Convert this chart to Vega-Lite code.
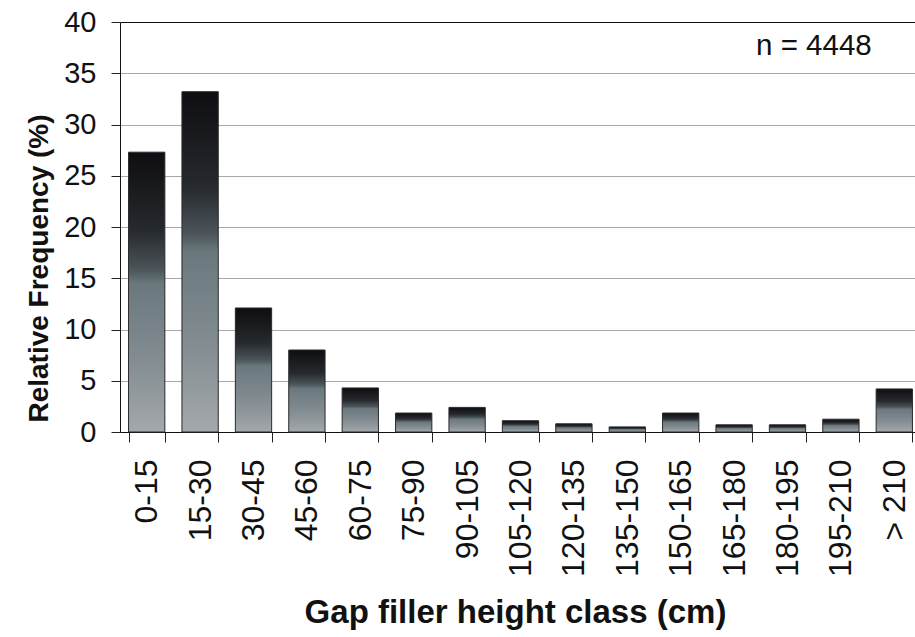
{
  "$schema": "https://vega.github.io/schema/vega-lite/v6.json",
  "autosize": "none",
  "width": 801,
  "height": 410,
  "padding": {"left": 120, "top": 22, "right": 0, "bottom": 205},
  "background": "white",
  "config": {
    "view": {"stroke": null},
    "font": "Liberation Sans"
  },
  "datasets": {
    "freq": [
      {"cls": "0-15", "pct": 27.3},
      {"cls": "15-30", "pct": 33.2},
      {"cls": "30-45", "pct": 12.1},
      {"cls": "45-60", "pct": 8.0},
      {"cls": "60-75", "pct": 4.3},
      {"cls": "75-90", "pct": 1.85},
      {"cls": "90-105", "pct": 2.4},
      {"cls": "105-120", "pct": 1.1},
      {"cls": "120-135", "pct": 0.8},
      {"cls": "135-150", "pct": 0.5},
      {"cls": "150-165", "pct": 1.85},
      {"cls": "165-180", "pct": 0.7},
      {"cls": "180-195", "pct": 0.7},
      {"cls": "195-210", "pct": 1.25},
      {"cls": "> 210", "pct": 4.2}
    ],
    "note": [
      {"cls": "195-210", "pct": 36.8, "label": "n = 4448"}
    ]
  },
  "layer": [
    {
      "data": {"name": "freq"},
      "mark": {
        "type": "bar",
        "stroke": "#2a2a2a",
        "strokeWidth": 1,
        "color": {
          "gradient": "linear",
          "x1": 0, "y1": 0, "x2": 0, "y2": 1,
          "stops": [
            {"offset": 0, "color": "#0e0e12"},
            {"offset": 0.28, "color": "#26292d"},
            {"offset": 0.42, "color": "#4c555a"},
            {"offset": 0.47, "color": "#6a787e"},
            {"offset": 0.75, "color": "#838d92"},
            {"offset": 1, "color": "#a4a8ab"}
          ]
        }
      },
      "encoding": {
        "x": {
          "field": "cls",
          "type": "nominal",
          "sort": null,
          "scale": {"paddingInner": 0.32, "paddingOuter": 0.16},
          "axis": {
            "title": "Gap filler height class (cm)",
            "titleFont": "Liberation Sans",
            "titleFontSize": 33,
            "titleFontWeight": "bold",
            "titleColor": "#111",
            "titleX": 395,
            "titleY": 164,
            "labelAngle": -90,
            "labelFontSize": 32,
            "labelColor": "#111",
            "labelPadding": 17,
            "tickSize": 10,
            "tickColor": "#222",
            "tickBand": "extent",
            "domainColor": "#111",
            "labelOverlap": false
          }
        },
        "y": {
          "field": "pct",
          "type": "quantitative",
          "scale": {"domain": [0, 40]},
          "axis": {
            "title": "Relative Frequency (%)",
            "titleFontSize": 28,
            "titleFontWeight": "bold",
            "titleColor": "#111",
            "titleX": -67,
            "titleY": 246,
            "values": [0, 5, 10, 15, 20, 25, 30, 35, 40],
            "labelFontSize": 29,
            "labelColor": "#111",
            "labelPadding": 15,
            "tickSize": 9,
            "tickColor": "#222",
            "domainColor": "#111",
            "gridColor": {"condition": {"test": "datum.value == 40", "value": "#111"}, "value": "#a8a8a8"},
            "gridWidth": 1.2
          }
        }
      }
    },
    {
      "data": {"name": "note"},
      "mark": {"type": "text", "fontSize": 29.5, "color": "#111", "align": "center", "baseline": "alphabetic", "dx": -27},
      "encoding": {
        "x": {"field": "cls", "type": "nominal", "sort": null},
        "y": {"field": "pct", "type": "quantitative"},
        "text": {"field": "label"}
      }
    }
  ]
}
